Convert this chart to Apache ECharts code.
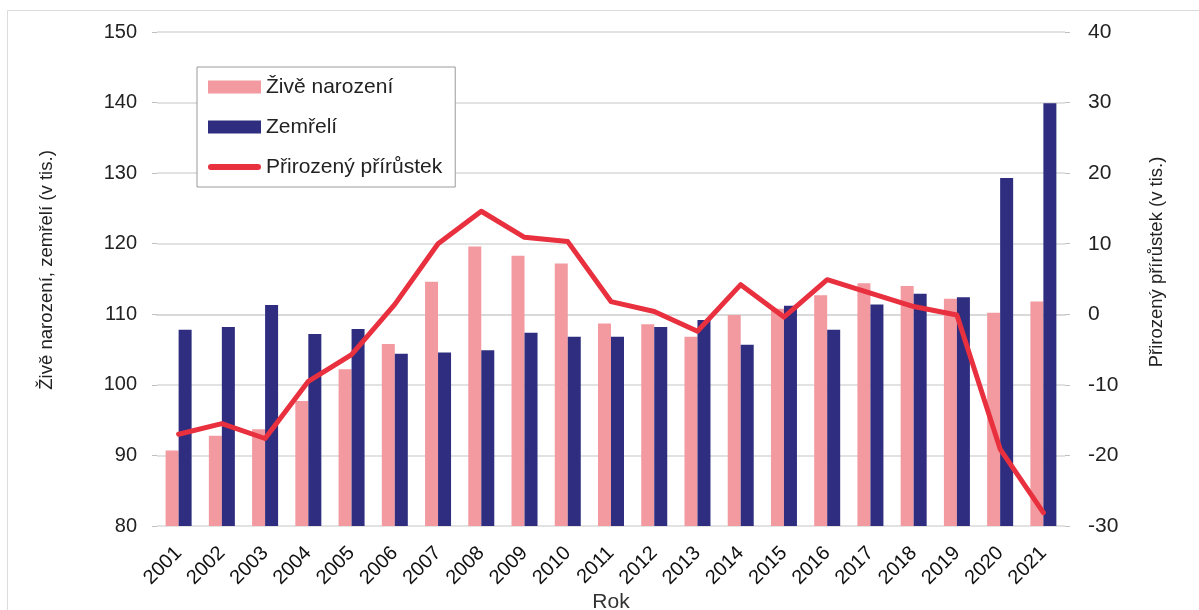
<!DOCTYPE html>
<html>
<head>
<meta charset="utf-8">
<script src="https://cdn.jsdelivr.net/npm/echarts@6/dist/echarts.min.js"></script>
<style>
  html, body { margin: 0; padding: 0; background: #fff; }
  #chart { width: 1199px; height: 610px; }
</style>
</head>
<body>
<div id="chart"></div>
<script>
// roky
const years = ['2001', '2002', '2003', '2004', '2005', '2006', '2007', '2008', '2009', '2010', '2011',
  '2012', '2013', '2014', '2015', '2016', '2017', '2018', '2019', '2020', '2021'];
// živě narození (tis.)
const births = [90.7, 92.8, 93.7, 97.7, 102.2, 105.8, 114.6, 119.6, 118.3, 117.2, 108.7,
  108.6, 106.8, 109.9, 110.8, 112.7, 114.4, 114.0, 112.2, 110.2, 111.8];
// zemřelí (tis.)
const deaths = [107.8, 108.2, 111.3, 107.2, 107.9, 104.4, 104.6, 104.9, 107.4, 106.8, 106.8,
  108.2, 109.2, 105.7, 111.2, 107.8, 111.4, 112.9, 112.4, 129.3, 139.9];
// přirozený přírůstek (tis.)
const increase = [-17.0, -15.5, -17.6, -9.5, -5.7, 1.4, 10.0, 14.6, 10.9, 10.3, 1.8,
  0.4, -2.4, 4.2, -0.4, 4.9, 3.0, 1.1, -0.1, -19.1, -28.1];

const font = '"Liberation Sans", Arial, sans-serif';
// ikonka čáry v legendě (tlustá čára s kulatými konci, uprostřed výšky ikony)
const lineIcon = 'path://M0,0L0.01,0ZM0,13L0.01,13ZM3,3.5L50,3.5A3,3 0 0 1 50,9.5L3,9.5A3,3 0 0 1 3,3.5Z';
const chart = echarts.init(document.getElementById('chart'));

chart.setOption({
  animation: false,
  textStyle: { fontFamily: font },
  graphic: [{
    type: 'rect',
    shape: { x: 7.5, y: 10.5, width: 1220, height: 640 },
    style: { fill: 'none', stroke: '#dcdcdc', lineWidth: 1 },
    silent: true
  }],
  grid: { left: 157, right: 134, top: 32, bottom: 84, outerBoundsMode: 'none' },
  legend: {
    orient: 'vertical',
    left: 197,
    top: 67,
    padding: [9, 13, 9, 11],
    itemGap: 18,
    itemWidth: 53,
    itemHeight: 13,
    symbolKeepAspect: false,
    borderColor: '#9a9a9a',
    borderWidth: 1,
    backgroundColor: '#fff',
    textStyle: { fontSize: 21, lineHeight: 22, color: '#222', fontFamily: font },
    data: [
      { name: 'Živě narození', icon: 'rect' },
      { name: 'Zemřelí', icon: 'rect' },
      { name: 'Přirozený přírůstek', icon: lineIcon }
    ]
  },
  xAxis: {
    type: 'category',
    data: years,
    name: 'Rok',
    nameLocation: 'middle',
    nameGap: 66,
    nameMoveOverlap: false,
    nameTextStyle: { fontSize: 21, color: '#333' },
    axisLine: { lineStyle: { color: '#d9d9d9', width: 2 } },
    axisTick: { show: false },
    axisLabel: { rotate: 45, fontSize: 20, color: '#111', margin: 24, interval: 0 }
  },
  yAxis: [{
    type: 'value',
    min: 80,
    max: 150,
    interval: 10,
    name: 'Živě narození, zemřelí (v tis.)',
    nameLocation: 'middle',
    nameGap: 101,
    nameMoveOverlap: false,
    nameTextStyle: { fontSize: 18.6, color: '#222', padding: [0, 0, 0, 18] },
    axisLine: { show: false },
    axisTick: { show: true, length: 5, lineStyle: { color: '#bfbfbf' } },
    axisLabel: { fontSize: 20, color: '#222', margin: 20 },
    splitLine: { lineStyle: { color: '#d9d9d9', width: 1.5 } }
  }, {
    type: 'value',
    min: -30,
    max: 40,
    interval: 10,
    name: 'Přirozený přírůstek (v tis.)',
    nameLocation: 'middle',
    nameGap: 82,
    nameMoveOverlap: false,
    nameTextStyle: { fontSize: 18.5, color: '#222', padding: [0, 0, 0, 34] },
    axisLine: { show: false },
    axisTick: { show: true, length: 5, lineStyle: { color: '#bfbfbf' } },
    axisLabel: { fontSize: 21, color: '#222', margin: 23 },
    splitLine: { show: false }
  }],
  series: [{
    name: 'Živě narození',
    type: 'bar',
    data: births,
    barWidth: 13,
    barGap: '0%',
    itemStyle: { color: '#f29aa0' }
  }, {
    name: 'Zemřelí',
    type: 'bar',
    data: deaths,
    barWidth: 13,
    itemStyle: { color: '#2e2d7f' }
  }, {
    name: 'Přirozený přírůstek',
    type: 'line',
    yAxisIndex: 1,
    data: increase,
    symbol: 'none',
    lineStyle: { color: '#e8303f', width: 5, cap: 'round', join: 'round' },
    itemStyle: { color: '#e8303f' }
  }]
});
</script>
</body>
</html>
